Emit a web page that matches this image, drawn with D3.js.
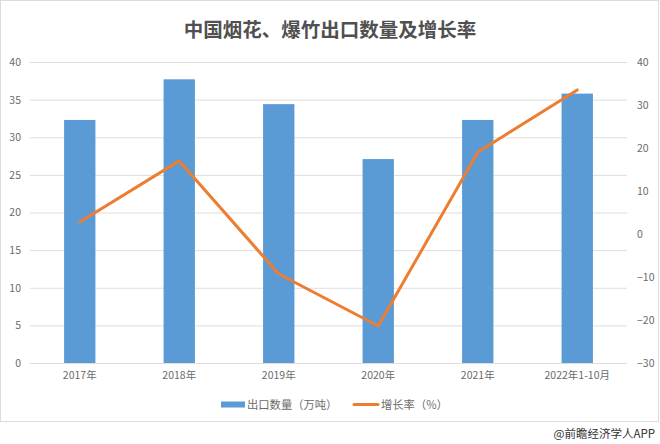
<!doctype html>
<html>
<head>
<meta charset="utf-8">
<title>中国烟花、爆竹出口数量及增长率</title>
<script src="https://d3js.org/d3.v7.min.js"></script>
<style>
body{ margin:0; background:#fff; }
svg{ display:block; }
text{ font-family:"Noto Sans CJK SC","Noto Sans",sans-serif; }
.axis text{ fill:#6b6b6b; font-size:10.5px; }
.axis path{ display:none; }
</style>
</head>
<body>
<svg id="chart" width="660" height="444"></svg>
<script>
var categories = ['2017年','2018年','2019年','2020年','2021年','2022年1-10月'];
var exportVolume = [32.3, 37.7, 34.4, 27.1, 32.3, 35.8];
var growthRate = [2.8, 17, -9.3, -21.4, 19, 33.5];
var leftTicks = [0,5,10,15,20,25,30,35,40];
var rightTicks = [-30,-20,-10,0,10,20,30,40];
var titleText = '中国烟花、爆竹出口数量及增长率';
var volumeName = '出口数量（万吨）';
var growthName = '增长率（%）';
var sourceText = '@前瞻经济学人APP';

var margin = {top: 62, right: 33, bottom: 81, left: 30},
    width = 660 - margin.left - margin.right,
    height = 444 - margin.top - margin.bottom;

var svg = d3.select('#chart');

// outer frame
svg.append('rect')
    .attr('x', 0.5).attr('y', 0.5)
    .attr('width', 658).attr('height', 421)
    .attr('fill', '#fff').attr('stroke', '#dcdcdc');

svg.append('text')
    .attr('x', 330).attr('y', 37)
    .attr('text-anchor', 'middle')
    .attr('font-size', 19.5)
    .attr('font-weight', 700)
    .attr('fill', '#505050')
    .text(titleText);

var g = svg.append('g').attr('transform', 'translate(' + margin.left + ',' + margin.top + ')');

var x = d3.scaleBand().domain(categories).range([0, width]).paddingInner(0.685).paddingOuter(0.3425);
var xPoint = function(d) { return x(d) + x.bandwidth() / 2; };
var yLeft = d3.scaleLinear().domain([0, 40]).range([height, 0]);
var yRight = d3.scaleLinear().domain([-30, 40]).range([height, 0]);

// gridlines
g.append('g').selectAll('line')
    .data(leftTicks)
    .enter().append('line')
    .attr('x1', 0).attr('x2', width)
    .attr('y1', function(d) { return yLeft(d) + 0.5; })
    .attr('y2', function(d) { return yLeft(d) + 0.5; })
    .attr('stroke', '#dedede');

g.selectAll('.bar')
    .data(exportVolume)
    .enter().append('rect')
    .attr('class', 'bar')
    .attr('x', function(d, i) { return x(categories[i]); })
    .attr('y', function(d) { return yLeft(d); })
    .attr('width', x.bandwidth())
    .attr('height', function(d) { return height - yLeft(d); })
    .attr('fill', '#5b9bd5');

var lineGenerator = d3.line()
    .x(function(d, i) { return xPoint(categories[i]); })
    .y(function(d) { return yRight(d); });

g.append('path')
    .datum(growthRate)
    .attr('d', lineGenerator)
    .attr('fill', 'none')
    .attr('stroke', '#ed7d31')
    .attr('stroke-width', 3)
    .attr('stroke-linecap', 'round')
    .attr('stroke-linejoin', 'round');

// axes
g.append('g').attr('class', 'axis')
    .call(d3.axisLeft(yLeft).tickValues(leftTicks).tickSize(0).tickPadding(9));

g.append('g').attr('class', 'axis')
    .attr('transform', 'translate(' + width + ',0)')
    .call(d3.axisRight(yRight).tickValues(rightTicks).tickSize(0).tickPadding(10));

g.append('g').attr('class', 'axis')
    .attr('transform', 'translate(0,' + height + ')')
    .call(d3.axisBottom(x).tickSize(0).tickPadding(9));

// legend
var legend = svg.append('g').attr('transform', 'translate(0,404.5)');
legend.append('rect')
    .attr('x', 221).attr('y', -3)
    .attr('width', 24).attr('height', 6)
    .attr('fill', '#5b9bd5');
legend.append('text')
    .attr('x', 247).attr('y', 4)
    .attr('font-size', 11.3).attr('fill', '#6b6b6b')
    .text(volumeName);
legend.append('line')
    .attr('x1', 354).attr('x2', 378)
    .attr('stroke', '#ed7d31').attr('stroke-width', 3)
    .attr('stroke-linecap', 'round');
legend.append('text')
    .attr('x', 381).attr('y', 4)
    .attr('font-size', 11.3).attr('fill', '#6b6b6b')
    .text(growthName);

svg.append('text')
    .attr('x', 655).attr('y', 438)
    .attr('text-anchor', 'end')
    .attr('font-size', 11.5)
    .attr('fill', '#333')
    .text(sourceText);
</script>
</body>
</html>
